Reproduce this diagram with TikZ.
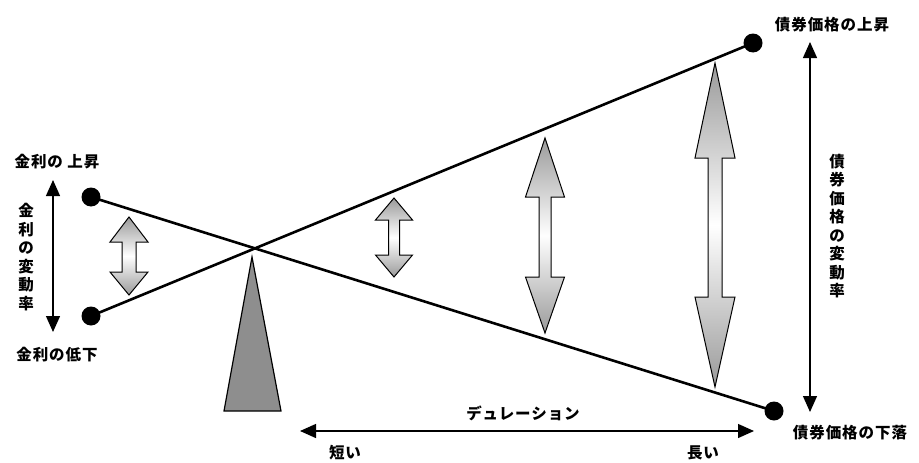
\documentclass[tikz,border=0pt]{standalone}
\usepackage{fontspec}
\setmainfont{Noto Sans CJK JP}[LetterSpace=6]
\usetikzlibrary{arrows.meta}
\definecolor{fulcrum}{HTML}{8E8E8E}
\definecolor{arrgray}{HTML}{9A9A9A}
\tikzset{
  dot/.style={circle,fill=black,inner sep=0pt,minimum size=19pt},
  beam/.style={line width=2.6pt},
  blackarrow/.style={line width=1.3pt,{Triangle[width=14pt,length=16pt]}-{Triangle[width=14pt,length=16pt]}},
  lbl/.style={font=\fontsize{15.5}{18.5}\selectfont\bfseries,inner sep=0pt},
  vlbl/.style={lbl,align=center},
  dblarr/.style={draw=black,line width=1pt,top color=arrgray,bottom color=arrgray,middle color=white}
}
% \dblarrow{cx}{ytop}{ybot}{headhalfwidth}{shafthalfwidth}{toprest}{botrest}
\newcommand{\dblarrow}[7]{%
  \path[dblarr] (#1,#2) -- (#1+#4,#6) -- (#1+#5,#6) -- (#1+#5,#7) -- (#1+#4,#7)
    -- (#1,#3) -- (#1-#4,#7) -- (#1-#5,#7) -- (#1-#5,#6) -- (#1-#4,#6) -- cycle;}
\begin{document}
\begin{tikzpicture}[x=1pt,y=-1pt]
\useasboundingbox (0,0) rectangle (919,463);
% dots
\node[dot] (tl) at (91,197) {};
\node[dot] (bl) at (91,316) {};
\node[dot] (tr) at (753,43) {};
\node[dot] (br) at (774,411) {};
% beams
\draw[beam] (tl.center) -- (br.center);
\draw[beam] (bl.center) -- (tr.center);
% fulcrum
\draw[fill=fulcrum,line width=1.2pt] (252,257) -- (281,411) -- (224,411) -- cycle;
% double arrows
\dblarrow{129}{217}{295}{19}{7}{242}{272}
\dblarrow{394}{198}{277}{18.5}{5.5}{220}{255}
\dblarrow{545}{138}{333}{19.5}{6}{197}{277}
\dblarrow{715}{63}{387}{20}{7}{158}{297}
% left scale
\coordinate (lt) at (53,180);
\coordinate (lb) at (53,332);
\draw[blackarrow] (lt) -- (lb);
\node[lbl] (lup) at (57,162) {金利の 上昇};
\node[lbl] (ldown) at (57,355) {金利の低下};
\node[vlbl] (lvar) at (26,257) {金\\利\\の\\変\\動\\率};
% right scale
\coordinate (rt) at (810,42);
\coordinate (rb) at (810,412);
\draw[blackarrow] (rt) -- (rb);
\node[lbl] (rup) at (832,25) {債券価格の上昇};
\node[lbl] (rdown) at (850,433) {債券価格の下落};
\node[vlbl] (rvar) at (837,226) {債\\券\\価\\格\\の\\変\\動\\率};
% duration axis
\coordinate (dl) at (300,431);
\coordinate (dr) at (754,431);
\draw[blackarrow] (dl) -- (dr);
\node[lbl] (dur) at (523,413) {デュレーション};
\node[lbl] (short) at (345,453) {短い};
\node[lbl] (long) at (703,453) {長い};
\end{tikzpicture}
\end{document}
